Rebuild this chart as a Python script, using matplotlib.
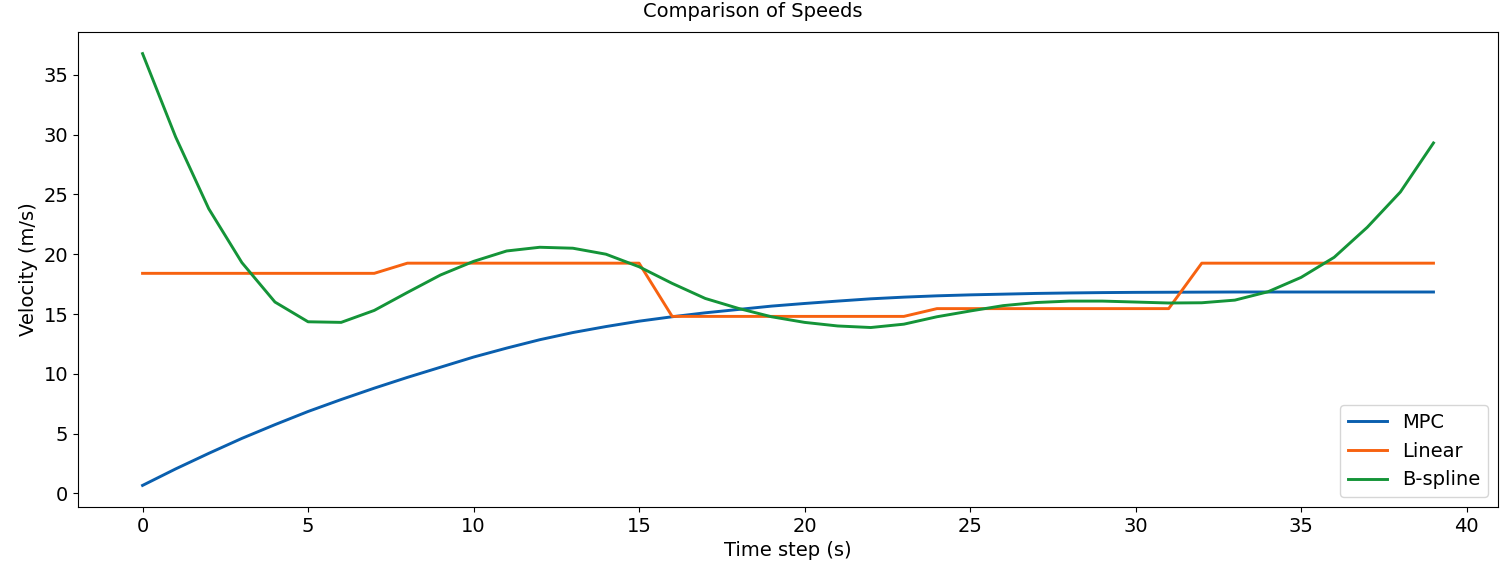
import numpy as np
import matplotlib
matplotlib.use("Agg")
import matplotlib.pyplot as plt

# values, one per time step
time_step = np.arange(40)

mpc = [0.67, 2.05, 3.35, 4.6, 5.75, 6.85, 7.85, 8.8, 9.7, 10.55,
       11.4, 12.15, 12.85, 13.45, 13.95, 14.4, 14.77, 15.1, 15.38, 15.66,
       15.88, 16.08, 16.27, 16.41, 16.52, 16.6, 16.66, 16.72, 16.76, 16.79,
       16.81, 16.82, 16.83, 16.84, 16.84, 16.84, 16.84, 16.84, 16.84, 16.84]

linear = [18.4] * 8 + [19.25] * 8 + [14.8] * 8 + [15.45] * 8 + [19.25] * 8

bspline = [36.77, 29.8, 23.8, 19.3, 16.0, 14.35, 14.3, 15.3, 16.8, 18.26,
           19.4, 20.27, 20.58, 20.5, 20.0, 18.95, 17.56, 16.3, 15.47, 14.77,
           14.3, 14.0, 13.87, 14.15, 14.77, 15.25, 15.7, 15.96, 16.08, 16.08,
           16.0, 15.92, 15.94, 16.16, 16.86, 18.06, 19.74, 22.25, 25.2, 29.3]

plt.rcParams["font.size"] = 14

fig, ax = plt.subplots(figsize=(15.06, 5.76), dpi=100)
fig.subplots_adjust(left=0.0518, right=0.9947, bottom=0.1198, top=0.9444)

ax.plot(time_step, mpc, color="#0a5fae", lw=2.1, label="MPC")
ax.plot(time_step, linear, color="#f76210", lw=2.1, label="Linear")
ax.plot(time_step, bspline, color="#149438", lw=2.1, label="B-spline")

# title is centred on the figure, not on the axes
fig.suptitle("Comparison of Speeds", fontsize=14, y=0.997, va="top")
ax.set_xlabel("Time step (s)")
ax.set_ylabel("Velocity (m/s)")
ax.legend(loc="lower right")

fig.savefig("out.png", dpi=100)
